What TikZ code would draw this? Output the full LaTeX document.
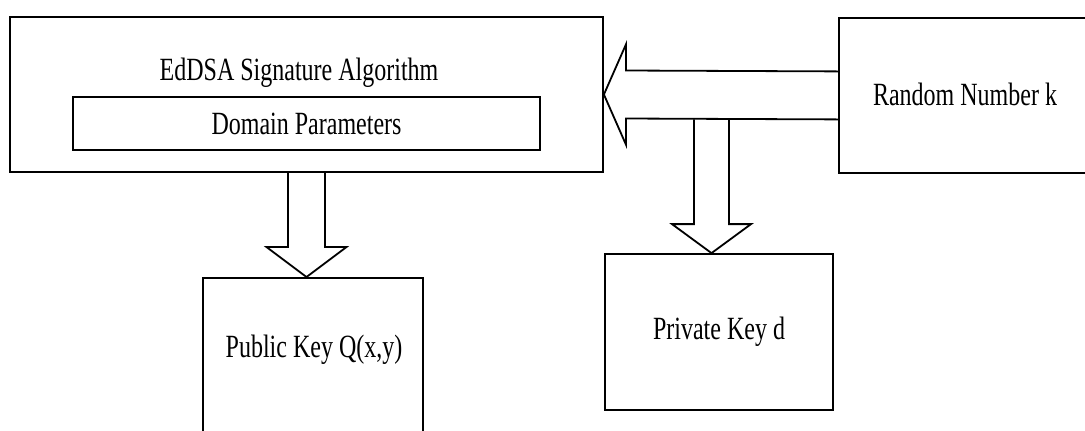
\documentclass[tikz,border=0pt]{standalone}
\usepackage{fontspec}
\setmainfont{Liberation Serif}
\usetikzlibrary{calc}
\newcommand{\tall}[1]{\scalebox{1}[1.35]{#1}}

\begin{document}
\begin{tikzpicture}[x=0.5pt, y=-0.5pt,
    box/.style={draw, line width=0.9pt, inner sep=0pt},
    lbl/.style={font=\fontsize{12}{14}\selectfont, inner sep=0pt},
    fat/.style={draw, line width=0.9pt, line join=miter}]
  \clip (0,0) rectangle (1085,430);
  \node (algo) [box, minimum width=296.5pt, minimum height=77.5pt] at (306.5,94.5) {};
  \node (algotitle) [lbl] at (299,73) {\tall{EdDSA Signature Algorithm}};
  \node (domain) [box, lbl, minimum width=233.5pt, minimum height=26.5pt] at (306.5,123.5) {\tall{Domain Parameters}};
  \node (rng) [box, anchor=north west, minimum width=131pt, minimum height=77.5pt] at (838,17) {};
  \node (rngtext) [lbl] at (965,94) {\tall{Random Number k}};
  \node (priv) [box, lbl, minimum width=114pt, minimum height=78pt] at (719,332) {\tall{Private Key d}};
  \node (pub) [box, anchor=north west, minimum width=110pt, minimum height=85pt] at (202,277) {};
  \node (pubtext) [lbl] at (314,350) {\tall{Public Key Q(x,y)}};
  \draw[fat] ($(rng.west)+(0,-24)$) -- ($(algo.east)+(22,-24)$) -- ($(algo.east)+(22,-50)$) -- (algo.east)
    -- ($(algo.east)+(22,50)$) -- ($(algo.east)+(22,24)$) -- ($(rng.west)+(0,24)$);
  \coordinate (split) at ($(rng.west)+(-126.5,24)$);
  \coordinate (privtip) at (split |- priv.north);
  \draw[fat] ($(split)+(-17.5,0)$) -- ($(privtip)+(-17.5,-29)$) -- ($(privtip)+(-39.5,-29)$) -- (privtip)
    -- ($(privtip)+(39.5,-29)$) -- ($(privtip)+(17.5,-29)$) -- ($(split)+(17.5,0)$);
  \coordinate (pubtip) at (algo.south |- pub.north);
  \draw[fat] ($(algo.south)+(-18.5,0)$) -- ($(pubtip)+(-18.5,-30)$) -- ($(pubtip)+(-40,-30)$) -- (pubtip)
    -- ($(pubtip)+(40,-30)$) -- ($(pubtip)+(18.5,-30)$) -- ($(algo.south)+(18.5,0)$);
\end{tikzpicture}
\end{document}
